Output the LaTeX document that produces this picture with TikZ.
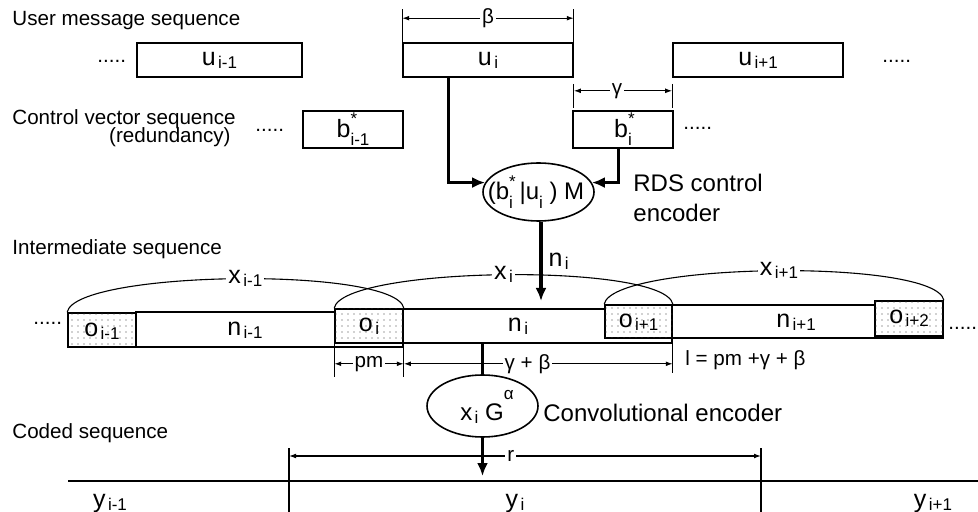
\documentclass[tikz,border=0pt]{standalone}
\usepackage{fontspec}
\setmainfont{Liberation Sans}
\usetikzlibrary{arrows.meta,shapes.geometric,patterns.meta,calc}
\newcommand{\labf}{\fontsize{10.3pt}{12pt}\selectfont}
\newcommand{\encf}{\fontsize{12pt}{14pt}\selectfont}
\newcommand{\varf}{\fontsize{12.5pt}{14pt}\selectfont}
\newcommand{\subf}{\fontsize{8.5pt}{9pt}\selectfont}
\newcommand{\sbs}[1]{\kern1.2pt\raisebox{-0.12em}{\subf #1}}
\newcommand{\ssb}[1]{\raisebox{-0.35em}{\subf #1}}
\newcommand{\starsb}[1]{\makebox[0pt][l]{\raisebox{0.5em}{\subf *}}\raisebox{-0.35em}{\subf #1}}
\begin{document}
\begin{tikzpicture}[x=0.5pt,y=-0.5pt,
  seqbox/.style={draw,line width=0.8pt,inner sep=0pt,minimum height=17pt},
  strip/.style={draw,line width=0.8pt,inner sep=0pt},
  shade/.style={strip,fill=white,postaction={pattern={Dots[distance=3pt,radius=0.35pt]},pattern color=black!75}},
  thinl/.style={line width=0.55pt},
  dim/.style={line width=0.55pt,{Latex[length=3.5pt,width=2.4pt]}-{Latex[length=3.5pt,width=2.4pt]}},
  thickarr/.style={line width=1.6pt,-{Latex[length=6.5pt,width=5.5pt]}},
  enc/.style={draw,ellipse,line width=0.8pt,inner sep=0pt},
  txt/.style={inner sep=0pt},
  cut/.style={fill=white,inner sep=1pt}]
\useasboundingbox (0,0) rectangle (978,512);

% left labels
\node[txt,anchor=base west] (l1) at (12,26) {\labf User message sequence};
\node[txt,anchor=base west] (l2) at (12,125) {\labf Control vector sequence};
\node[txt,anchor=base east] (l2b) at (231,143) {\labf (redundancy)};
\node[txt,anchor=base west] (l3) at (12,255) {\labf Intermediate sequence};
\node[txt,anchor=base west] (l4) at (12,438) {\labf Coded sequence};

% dots
\node[txt,anchor=base west] (d1) at (97,63) {\labf .....};
\node[txt,anchor=base west] (d2) at (882,63) {\labf .....};
\node[txt,anchor=base west] (d3) at (255,132) {\labf .....};
\node[txt,anchor=base west] (d4) at (683,130) {\labf .....};
\node[txt,anchor=base west] (d5) at (33,325) {\labf .....};
\node[txt,anchor=base west] (d6) at (948,330) {\labf .....};

% message and control boxes
\node[seqbox,minimum width=82.5pt] (um) at (219.5,60) {\varf u\sbs{i-1}};
\node[seqbox,minimum width=85pt] (ui) at (488,60) {\varf u\sbs{i}};
\node[seqbox,minimum width=85pt] (up) at (758,60) {\varf u\sbs{i+1}};
\node[seqbox,minimum width=50pt,minimum height=18.5pt] (bm) at (353,129.5) {\varf b\starsb{i-1}};
\node[seqbox,minimum width=50pt,minimum height=18.5pt] (bi) at (623,129.5) {\varf b\starsb{i}};

% beta dimension
\draw[thinl] (ui.north west) -- ++(0,-33);
\draw[thinl] (ui.north east) -- ++(0,-33);
\draw[dim] ($(ui.north west)+(0,-24)$) -- node[cut]{\labf β} ($(ui.north east)+(0,-24)$);
% gamma dimension
\draw[thinl] ($(ui.south east)+(0,6)$) -- ++(0,24);
\draw[thinl] ($(up.south west)+(0,6)$) -- ++(0,24);
\draw[dim] ($(ui.south east)+(0,13)$) -- node[cut,pos=0.44]{\labf γ} ($(up.south west)+(0,13)$);

% RDS control encoder
\node[enc,minimum width=55.5pt,minimum height=29pt] (rds) at (538.5,192) {};
\node[txt] (rdst) at (536,192) {\encf (b\starsb{i} |u\ssb{i} ) M};
\draw[thickarr] ($(ui.south west)+(46,0)$) |- (rds.170);
\draw[thickarr] ($(bi.south east)+(-55,0)$) |- (rds.10);
\node[txt,anchor=base west] (rc1) at (633,192) {\encf RDS control};
\node[txt,anchor=base west] (rc2) at (633,222) {\encf encoder};

% n_i arrow
\coordinate (nitip) at (541,301);
\draw[thickarr] (rds.south -| nitip) -- node[txt,right=3pt]{\varf n\sbs{i}} (nitip);

% intermediate strip
\node[strip,minimum width=133.5pt,minimum height=17.5pt] (nm) at (269.5,329.5) {};
\node[strip,minimum width=134.5pt,minimum height=17pt] (ni) at (537.5,326) {};
\node[strip,minimum width=135.5pt,minimum height=16.5pt] (np) at (807.5,321.5) {};
\node[shade,minimum width=34pt,minimum height=17pt] (om) at (102,330) {};
\node[shade,minimum width=34pt,minimum height=17pt] (oi) at (369,326) {};
\node[shade,minimum width=33.5pt,minimum height=16.5pt] (op) at (638.5,321.5) {};
\node[shade,minimum width=34pt,minimum height=17.5pt] (opp) at (909,318.5) {};
\node[txt] (oml) at (102,331) {\varf o\sbs{i-1}};
\node[txt] (oil) at (369,326) {\varf o\sbs{i}};
\node[txt] (opl) at (638.5,322) {\varf o\sbs{i+1}};
\node[txt] (oppl) at (909,318) {\varf o\sbs{i+2}};
\node[txt] (nml) at (245,330) {\varf n\sbs{i-1}};
\node[txt] (nil) at (518,326) {\varf n\sbs{i}};
\node[txt] (npl) at (796,322) {\varf n\sbs{i+1}};

% x arcs
\draw[thinl] (om.north west) .. controls +(8,-42) and +(-8,-42) .. node[cut,pos=0.52]{\varf x\sbs{i-1}} (oi.north east);
\draw[thinl] (oi.north west) .. controls +(8,-42) and +(-8,-42) .. node[cut,pos=0.5]{\varf x\sbs{i}} (op.north east);
\draw[thinl] (op.north west) .. controls +(8,-42) and +(-8,-42) .. node[cut,pos=0.51]{\varf x\sbs{i+1}} (opp.north east);

% pm and gamma+beta dimension
\draw[thinl] (oi.south west) -- ++(0,33);
\draw[thinl] (nm.south east) -- ++(0,29);
\draw[thinl] (ni.south east) -- ++(0,29);
\draw[dim] ($(oi.south west)+(0,20)$) -- node[cut]{\labf pm} ($(oi.south east)+(0,20)$);
\draw[dim] ($(oi.south east)+(0,20)$) -- node[cut,pos=0.46]{\labf γ + β} ($(ni.south east)+(0,20)$);
\node[txt,anchor=base west] (ll) at (685,366) {\labf l = pm +γ + β};

% convolutional encoder
\node[enc,minimum width=55.5pt,minimum height=31pt] (conv) at (482.5,406) {};
\node[txt] (convt) at (487,407) {\encf x\sbs{i}\ G\raisebox{0.85em}{\subf α}};
\draw[line width=1.6pt] (ni.south -| conv) -- (conv);
\coordinate (ytip) at (482.5,476);
\draw[thickarr] (conv) -- (ytip);
\node[txt,anchor=base west] (ce) at (543,422) {\encf Convolutional encoder};

% coded sequence
\coordinate (cl) at (68,481);
\coordinate (cr) at (978,481);
\draw[line width=0.9pt] (cl) -- (cr);
\coordinate (t1) at (289,448);
\coordinate (t2) at (761,448);
\draw[thinl] (t1) -- ++(0,64);
\draw[thinl] (t2) -- ++(0,64);
\draw[dim] ($(t1)+(0,8)$) -- node[cut,pos=0.47]{\labf r} ($(t2)+(0,8)$);
\node[txt,anchor=base] (y1) at (110,507) {\varf y\sbs{i-1}};
\node[txt,anchor=base] (y2) at (515,507) {\varf y\sbs{i}};
\node[txt,anchor=base] (y3) at (933,507) {\varf y\sbs{i+1}};
\end{tikzpicture}
\end{document}
